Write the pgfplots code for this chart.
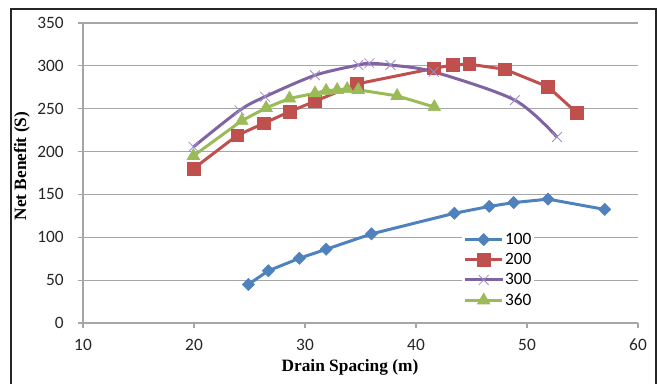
\documentclass[border=0pt]{standalone}
\usepackage{fontspec}
\setmainfont{Liberation Serif}
\newfontfamily\carlito{Carlito}
\usepackage{pgfplots}
\pgfplotsset{compat=1.18}
\definecolor{cblue}{HTML}{4F81BD}
\definecolor{cred}{HTML}{C0504D}
\definecolor{cpurple}{HTML}{8064A2}
\definecolor{cpurplex}{HTML}{A08CC8}
\definecolor{cgreen}{HTML}{9BBB59}
\definecolor{cgrid}{HTML}{A6A6A6}
\begin{document}
\begin{tikzpicture}[x=1pt,y=1pt]
\useasboundingbox (0,0) rectangle (492.75,287.25);
\draw[line width=1.1pt, black!85] (8.25,-5) rectangle (492,280.5);
\begin{axis}[
  at={(62.25pt,45pt)}, anchor=south west,
  width=416.25pt, height=225pt, scale only axis,
  xmin=10, xmax=60, ymin=0, ymax=350,
  xtick={10,20,...,60}, ytick={0,50,...,350},
  axis x line*=bottom, axis y line*=left,
  ymajorgrids, major grid style={cgrid, line width=0.8pt},
  axis line style={cgrid, line width=0.8pt},
  tick align=outside, major tick length=4pt,
  tick style={cgrid, line width=0.8pt},
  tick label style={font=\carlito\fontsize{13}{15}\selectfont, text=black!85},
  /pgf/number format/assume math mode=true,
  yticklabel style={xshift=-7pt},
  xticklabel style={yshift=-7pt, inner sep=1pt},
  xlabel={Drain Spacing (m)}, ylabel={Net Benefit (S)},
  label style={font=\bfseries\fontsize{13}{15}\selectfont},
  xlabel style={at={(axis description cs:0.481,-0.149)}, anchor=center, inner sep=1pt},
  ylabel style={at={(axis description cs:-0.110,0.523)}, anchor=center},
  legend style={at={(axis description cs:0.683,0.31)}, anchor=north west,
    draw=none, fill=white, inner sep=1pt,
    font=\carlito\fontsize{13}{15}\selectfont,
    nodes={inner sep=1pt}, row sep=3.2pt},
  legend cell align=left,
  legend image code/.code={\draw[mark repeat=2,mark phase=2] plot coordinates {(0pt,0pt)(13.9pt,0pt)(27.8pt,0pt)};},
]
\addplot[cblue, line width=2.25pt, mark=square*, mark size=3.2pt, mark options={solid, rotate=45, line width=0.5pt}]
coordinates {(24.9,45) (26.7,61) (29.5,75.5) (31.9,86) (36.0,104) (43.45,128) (46.6,136) (48.8,140.5) (51.9,144.5) (57.0,132.5)};
\addlegendentry{100}
\addplot[cred, line width=2.25pt, mark=square*, mark size=4.8pt, mark options={solid, line width=0.5pt}]
coordinates {(19.95,180) (23.9,219) (26.3,233) (28.6,246.5) (30.85,258.5) (34.7,279) (41.6,297) (43.3,301) (44.8,302) (48.0,296) (51.9,275.5) (54.5,245)};
\addlegendentry{200}
\addplot[cpurple, line width=2.25pt, smooth, mark=x, mark size=5.2pt, mark options={solid, cpurplex, line width=0.6pt}]
coordinates {(19.95,205.5) (24.1,248) (26.4,264) (30.9,289) (34.8,301) (35.8,303) (37.7,301) (41.6,293) (48.9,260) (52.7,217)};
\addlegendentry{300}
\addplot[cgreen, line width=2.25pt, mark=triangle*, mark size=5.4pt, mark options={solid, line width=0.5pt}]
coordinates {(19.95,195) (24.3,236) (26.5,251) (28.6,262) (30.9,268) (31.9,271) (32.9,272) (33.8,273) (34.8,272) (38.3,265) (41.65,252)};
\addlegendentry{360}
\end{axis}
\end{tikzpicture}
\end{document}
